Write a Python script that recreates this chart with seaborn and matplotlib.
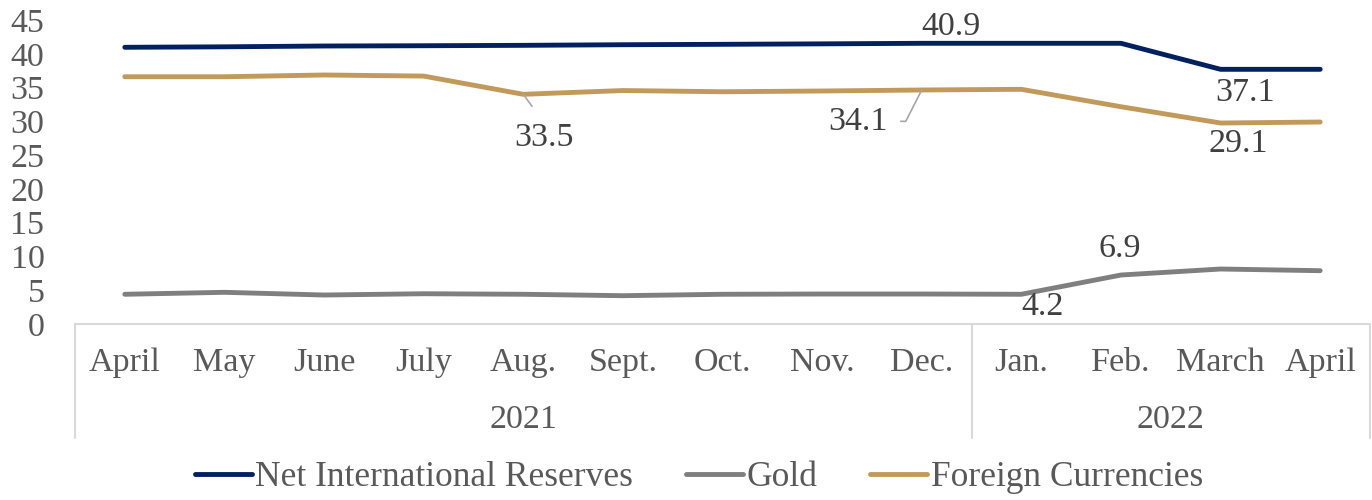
import matplotlib
matplotlib.use("Agg")
import matplotlib.pyplot as plt
import seaborn as sns
import pandas as pd
import numpy as np
from matplotlib.lines import Line2D

# ---------------- data ----------------
months = ["April", "May", "June", "July", "Aug.", "Sept.", "Oct.", "Nov.", "Dec.",
          "Jan.", "Feb.", "March", "April"]
years = ["2021", "2022"]
year_span = [(0, 8), (9, 12)]

nir = [40.96, 41.03, 41.15, 41.19, 41.25, 41.34, 41.40, 41.47, 41.55, 41.55, 41.55, 37.70, 37.70]
gold = [4.40, 4.69, 4.29, 4.48, 4.40, 4.19, 4.40, 4.44, 4.44, 4.40, 7.25, 8.14, 7.89]
fx = [36.60, 36.60, 36.86, 36.70, 34.00, 34.56, 34.38, 34.49, 34.64, 34.74, 32.16, 29.75, 29.90]

series_names = ["Net International Reserves", "Gold", "Foreign Currencies"]
colors = {"Net International Reserves": "#002060", "Gold": "#7F7F7F", "Foreign Currencies": "#C19A5B"}

# data labels: (series, month index, text)
label_texts = [("Net International Reserves", 8, "40.9"),
               ("Net International Reserves", 11, "37.1"),
               ("Foreign Currencies", 4, "33.5"),
               ("Foreign Currencies", 8, "34.1"),
               ("Foreign Currencies", 11, "29.1"),
               ("Gold", 9, "4.2"),
               ("Gold", 10, "6.9")]

yticks = list(range(0, 50, 5))

# ---------------- build frame ----------------
rows = []
for name, vals in zip(series_names, [nir, gold, fx]):
    for i, v in enumerate(vals):
        rows.append({"idx": i, "value": v, "series": name})
df = pd.DataFrame(rows)

sns.set_theme(style="white")
plt.rcParams["font.family"] = ["Liberation Serif", "DejaVu Serif"]

FS = 24.5
W, H = 1372, 500
fig = plt.figure(figsize=(W / 100, H / 100), dpi=100)
ax_left, ax_right = 75 / W, 1370 / W
ax_bottom, ax_top = 1 - 324 / H, 1 - 20 / H
ax = fig.add_axes([ax_left, ax_bottom, ax_right - ax_left, ax_top - ax_bottom])

sns.lineplot(data=df, x="idx", y="value", hue="series", hue_order=series_names,
             palette=colors, linewidth=3.5, sort=False, ax=ax, legend=False,
             solid_capstyle="round", solid_joinstyle="miter")

ax.set_xlim(-0.5, len(months) - 0.5)
ax.set_ylim(0, 45)
ax.set_yticks(yticks)
ax.set_yticklabels([str(t) for t in yticks], fontsize=FS, color="#595959")
ax.tick_params(axis="y", length=0, pad=22)
ax.set_xticks(range(len(months)))
ax.set_xticklabels(months, fontsize=FS, color="#595959")
ax.tick_params(axis="x", length=0, pad=17)
ax.set_xlabel("")
ax.set_ylabel("")
for s in ["top", "right", "left"]:
    ax.spines[s].set_visible(False)
ax.spines["bottom"].set_color("#D9D9D9")
ax.spines["bottom"].set_linewidth(1.5)

# category box separators
box_depth = (438 - 324) / (324 - 20)
for xpos in [-0.5, 8.5, 12.5]:
    ax.plot([xpos, xpos], [0, -box_depth], transform=ax.get_xaxis_transform(),
            color="#D9D9D9", lw=1.5, clip_on=False)

# year labels
year_y = -(420 - 324) / (324 - 20)
for yr, (a, b) in zip(years, year_span):
    ax.text((a + b) / 2, year_y, yr, transform=ax.get_xaxis_transform(),
            ha="center", va="center", fontsize=FS, color="#595959")

# data labels
vals_map = {"Net International Reserves": nir, "Gold": gold, "Foreign Currencies": fx}
pos = {("Net International Reserves", 8): (8.29, 44.0, None),
       ("Net International Reserves", 11): (11.25, 34.2, None),
       ("Foreign Currencies", 4): (4.21, 27.5, "straight"),
       ("Foreign Currencies", 8): (7.36, 30.0, "angle"),
       ("Foreign Currencies", 11): (11.18, 26.7, None),
       ("Gold", 9): (9.21, 2.5, None),
       ("Gold", 10): (9.99, 11.1, None)}
for name, i, txt in label_texts:
    tx, ty, leader = pos[(name, i)]
    if leader is None:
        ax.text(tx, ty, txt, ha="center", va="center", fontsize=FS, color="#404040")
    elif leader == "straight":
        ax.annotate(txt, xy=(i, vals_map[name][i]), xytext=(tx, ty),
                    ha="center", va="center", fontsize=FS, color="#404040",
                    arrowprops=dict(arrowstyle="-", color="#A6A6A6", lw=1.2,
                                    shrinkA=12, shrinkB=0, relpos=(0.5, 1.0)))
    else:
        ax.annotate(txt, xy=(i, vals_map[name][i]), xytext=(tx, ty),
                    ha="center", va="center", fontsize=FS, color="#404040",
                    arrowprops=dict(arrowstyle="-", color="#A6A6A6", lw=1.2,
                                    shrinkA=7, shrinkB=0, relpos=(1.0, 0.5),
                                    connectionstyle="angle,angleA=0,angleB=63,rad=0"))

# legend
handles = [Line2D([0], [0], color=colors[n], lw=3.5, solid_capstyle="round") for n in series_names]
leg = fig.legend(handles, series_names, loc="center", bbox_to_anchor=(699 / W, 1 - 478 / H),
                 ncol=3, frameon=False, fontsize=25.5, handlelength=1.6, handletextpad=0.1,
                 columnspacing=1.5)
for t in leg.get_texts():
    t.set_color("#595959")

fig.savefig("out.png", dpi=100)
